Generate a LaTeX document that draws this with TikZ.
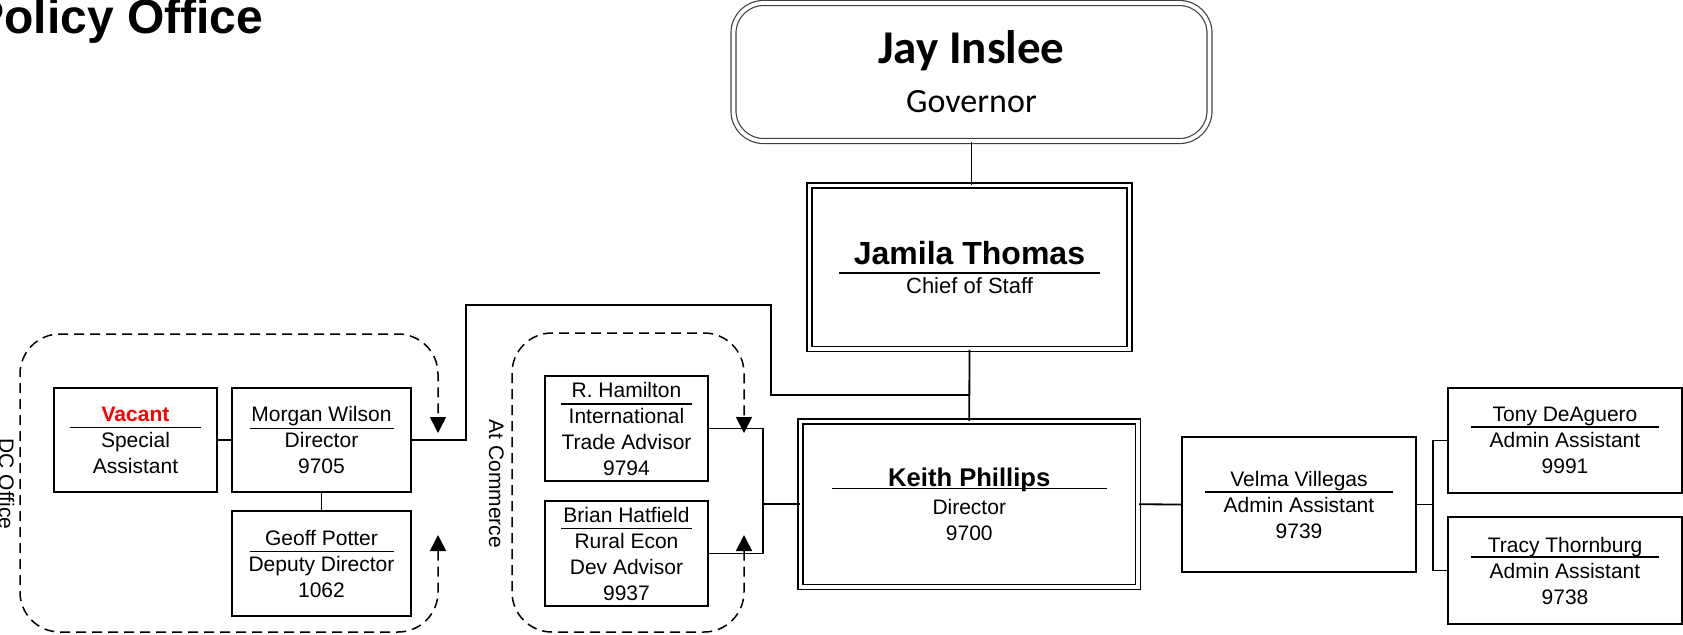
\documentclass[tikz,border=0pt]{standalone}
\usepackage{fontspec}
\setmainfont{Liberation Sans}
\newfontfamily\govfont{Carlito}
\usetikzlibrary{arrows.meta}

% name line with the rule under it: [drop]{rule width}{name}
\newcommand{\topline}[3][3.2pt]{\makebox[#2][c]{#3}\llap{\raisebox{-#1}{\rule[-0.4pt]{#2}{0.8pt}}}}

\begin{document}
\begin{tikzpicture}[x=0.5pt, y=-0.5pt,
  staff/.style={draw, line width=0.9pt, inner sep=0pt, align=center, font=\fontsize{10.5}{13}\selectfont},
  lead/.style={draw, double, line width=0.75pt, double distance=1.75pt, inner sep=0pt, align=center},
  group/.style={dash pattern=on 5pt off 3pt, line width=0.75pt, rounded corners=20pt, {Triangle[length=8pt,width=8pt]}-{Triangle[length=8pt,width=8pt]}},
  link/.style={line width=0.9pt}]
\useasboundingbox (0,0) rectangle (1683,634);
\node[anchor=base west, inner sep=0pt, font=\fontsize{24}{28}\selectfont\bfseries] (title) at (-28,33) {Policy Office};
\node[draw=black!75, double, line width=0.6pt, double distance=1.9pt, rounded corners=15pt, minimum width=238pt, minimum height=69pt, inner sep=0pt, align=center, font=\govfont\fontsize{17}{24.5}\selectfont] (gov) at (971.5,72) {{\fontsize{23.5}{24.5}\selectfont\bfseries Jay Inslee}\\Governor};
\node[lead, minimum width=160pt, minimum height=81.75pt, font=\fontsize{11}{14.5}\selectfont] (chief) at (969.5,267.25) {\topline[4.5pt]{130.5pt}{\fontsize{16}{16}\selectfont\bfseries Jamila Thomas}\\Chief of Staff};
\node[lead, minimum width=168.75pt, minimum height=82.75pt, font=\fontsize{10.5}{13}\selectfont] (keith) at (969.25,504.25) {\topline[1pt]{137.5pt}{\fontsize{12.8}{13}\selectfont\bfseries Keith Phillips}\\[1pt]Director\\9700};
% DC office
\node[staff, minimum width=81.5pt, minimum height=52pt] (vacant) at (135.5,440) {\topline{66pt}{\color{red}\bfseries Vacant}\\Special\\Assistant};
\node[staff, minimum width=89.5pt, minimum height=52pt] (morgan) at (321.5,440) {\topline[3.5pt]{72pt}{Morgan Wilson}\\Director\\9705};
\node[staff, minimum width=89.5pt, minimum height=52.5pt] (geoff) at (321.5,563.5) {\topline{72pt}{Geoff Potter}\\Deputy Director\\1062};
% at commerce
\node[staff, minimum width=81.5pt, minimum height=52.5pt] (hamilton) at (626.5,428.5) {\topline[3.5pt]{65.5pt}{R. Hamilton}\\International\\Trade Advisor\\9794};
\node[staff, minimum width=81.5pt, minimum height=52.5pt] (hatfield) at (626.5,553.5) {\topline{65.5pt}{Brian Hatfield}\\Rural Econ\\Dev Advisor\\9937};
% admin
\node[staff, minimum width=117pt, minimum height=67.5pt] (velma) at (1299,504.5) {\topline[3pt]{94pt}{Velma Villegas}\\Admin Assistant\\9739};
\node[staff, minimum width=117pt, minimum height=52.5pt] (tony) at (1565,440.5) {\topline[2.6pt]{94pt}{Tony DeAguero}\\Admin Assistant\\9991};
\node[staff, minimum width=117pt, minimum height=53.5pt] (tracy) at (1565,570.5) {\topline[2.6pt]{94pt}{Tracy Thornburg}\\Admin Assistant\\9738};
\node[rotate=-90, anchor=base, font=\fontsize{10.5}{13}\selectfont] (dclabel) at (-1,484) {DC Office};
\node[rotate=-90, anchor=base, font=\fontsize{10.5}{13}\selectfont] (comlabel) at (489,484) {At Commerce};
\coordinate (dcjoin) at (969,395);
\coordinate (combus) at (763,504.25);
\coordinate (adminbus) at (1433,504.5);
\draw[link] (gov.south) -- (gov.south |- chief.north);
\draw[link] (chief.south) -- (keith.north);
\draw[link] (morgan.east) -| (466,305) -| (771,395) -- (dcjoin);
\draw[link] (vacant.east) -- (morgan.west);
\draw[link] (morgan.south) -- (geoff.north);
\draw[link] (hamilton.east) -| (combus) |- (hatfield.east);
\draw[link] (combus) -- (keith.west);
\draw[link] (keith.east) -- (velma.west);
\draw[link] (velma.east) -- (adminbus);
\draw[link] (tony.west) -| (adminbus) |- (tracy.west);
\draw[group] (438,535) -- (438,632) -- (20,632) -- (20,334) -- (438,334) -- (438,433);
\draw[group] (744,535) -- (744,632) -- (512,632) -- (512,333) -- (744,333) -- (744,433);
\end{tikzpicture}
\end{document}
